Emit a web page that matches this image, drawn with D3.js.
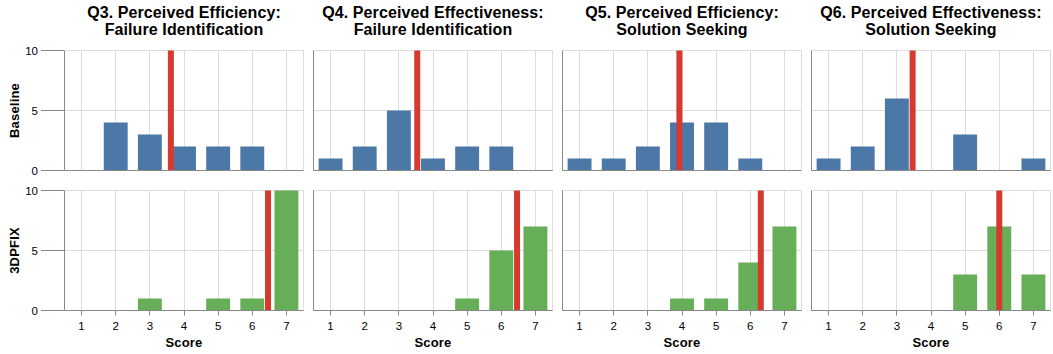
<!DOCTYPE html>
<html>
<head>
<meta charset="utf-8">
<script src="https://cdn.jsdelivr.net/npm/d3@7"></script>
<style>
  html, body { margin: 0; padding: 0; background: #fff; }
  svg { display: block; font-family: "Liberation Sans", Arial, Helvetica, sans-serif; }
</style>
</head>
<body>
<svg id="chart" width="1053" height="354"></svg>
<script>
const titles = [
  ["Q3. Perceived Efficiency:", "Failure Identification"],
  ["Q4. Perceived Effectiveness:", "Failure Identification"],
  ["Q5. Perceived Efficiency:", "Solution Seeking"],
  ["Q6. Perceived Effectiveness:", "Solution Seeking"]
];
const groups = ["Baseline", "3DPFIX"];
const scores = [1, 2, 3, 4, 5, 6, 7];
const baselineCounts = [
  [0, 4, 3, 2, 2, 2, 0],
  [1, 2, 5, 1, 2, 2, 0],
  [1, 1, 2, 4, 4, 1, 0],
  [1, 2, 6, 0, 3, 0, 1]
];
const fixCounts = [
  [0, 0, 1, 0, 1, 1, 10],
  [0, 0, 0, 0, 1, 5, 7],
  [0, 0, 0, 1, 1, 4, 7],
  [0, 0, 0, 0, 3, 7, 3]
];
const yTicks = [0, 5, 10];
const xLabel = "Score";

const groupCounts = [baselineCounts, fixCounts];
const groupColors = ["#4c78a8", "#67ae58"];
const meanColor = "#d63a2f";

const svg = d3.select("#chart");
const panelW = 239, panelH = 120;
const left0 = 64.5, colStep = 249;
const rowTops = [50.5, 190.5];

const x = d3.scaleLinear().domain([0.5, 7.5]).range([0, panelW]);
const y = d3.scaleLinear().domain([0, 10]).range([panelH, 0]);
const barHalf = 0.35;

function mean(counts) {
  const n = d3.sum(counts);
  return d3.sum(counts, (c, i) => c * scores[i]) / n;
}

titles.forEach((t, ci) => {
  const cx = left0 + ci * colStep + panelW / 2;
  [t[0], t[1]].forEach((line, li) => {
    svg.append("text")
      .attr("x", cx).attr("y", 18 + li * 17)
      .attr("text-anchor", "middle")
      .attr("font-size", 16).attr("font-weight", "bold").attr("fill", "#000")
      .attr("letter-spacing", "0.1px")
      .text(line);
  });
});

groups.forEach((g, ri) => {
  const top = rowTops[ri];
  svg.append("text")
    .attr("transform", `translate(18.5,${top + panelH / 2}) rotate(-90)`)
    .attr("text-anchor", "middle")
    .attr("font-size", 13).attr("font-weight", "bold").attr("fill", "#000")
    .attr("letter-spacing", "0.2px")
    .text(g);

  yTicks.forEach(v => {
    svg.append("line")
      .attr("x1", 41).attr("x2", left0)
      .attr("y1", top + y(v)).attr("y2", top + y(v))
      .attr("stroke", "#888").attr("stroke-width", 1);
    svg.append("text")
      .attr("x", 38).attr("y", top + y(v))
      .attr("dy", "0.35em")
      .attr("text-anchor", "end")
      .attr("font-size", 11.5).attr("fill", "#000")
      .text(v);
  });

  titles.forEach((t, ci) => {
    const gx = left0 + ci * colStep;
    const p = svg.append("g").attr("transform", `translate(${gx},${top})`);
    p.append("rect")
      .attr("x", 0).attr("y", 0).attr("width", panelW).attr("height", panelH)
      .attr("fill", "none").attr("stroke", "#ddd");
    p.selectAll(".gx").data(scores).join("line")
      .attr("x1", d => Math.round(x(d))).attr("x2", d => Math.round(x(d)))
      .attr("y1", 0).attr("y2", panelH)
      .attr("stroke", "#ddd");
    p.selectAll(".gy").data(yTicks).join("line")
      .attr("x1", 0).attr("x2", panelW)
      .attr("y1", d => y(d)).attr("y2", d => y(d))
      .attr("stroke", "#ddd");
    const counts = groupCounts[ri][ci];
    const data = scores.map((s, i) => ({ s, c: counts[i] })).filter(d => d.c > 0);
    p.selectAll(".bar").data(data).join("rect")
      .attr("x", d => x(d.s - barHalf))
      .attr("width", d => x(d.s + barHalf) - x(d.s - barHalf))
      .attr("y", d => y(d.c))
      .attr("height", d => y(0) - y(d.c))
      .attr("fill", groupColors[ri]);
    const m = mean(counts);
    p.append("rect")
      .attr("x", x(m) - 3).attr("width", 6)
      .attr("y", 0).attr("height", panelH)
      .attr("fill", meanColor);
    p.append("line").attr("x1", 0).attr("x2", 0).attr("y1", 0).attr("y2", panelH)
      .attr("stroke", "#888");
    p.append("line").attr("x1", 0).attr("x2", panelW).attr("y1", panelH).attr("y2", panelH)
      .attr("stroke", "#888");

    if (ri === 1) {
      p.selectAll(".xt").data(scores).join("line")
        .attr("x1", d => Math.round(x(d))).attr("x2", d => Math.round(x(d)))
        .attr("y1", panelH).attr("y2", panelH + 5)
        .attr("stroke", "#888");
      p.selectAll(".xl").data(scores).join("text")
        .attr("x", d => x(d)).attr("y", panelH + 19)
        .attr("text-anchor", "middle")
        .attr("font-size", 11.5).attr("fill", "#000")
        .text(d => d);
      p.append("text")
        .attr("x", panelW / 2).attr("y", panelH + 36)
        .attr("text-anchor", "middle")
        .attr("font-size", 13).attr("font-weight", "bold").attr("fill", "#000")
        .attr("letter-spacing", "0.2px")
        .text(xLabel);
    }
  });
});
</script>
</body>
</html>
